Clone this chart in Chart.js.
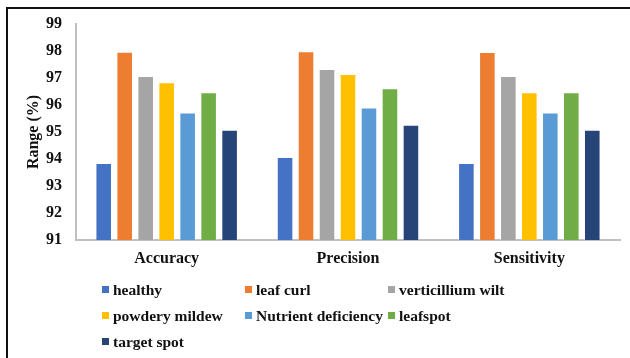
<!DOCTYPE html>
<html>
<head>
<meta charset="utf-8">
<script src="https://cdn.jsdelivr.net/npm/chart.js@4/dist/chart.umd.min.js"></script>
<style>
  html, body { margin: 0; padding: 0; background: #fff; }
  #wrap { position: relative; width: 630px; height: 358px; overflow: hidden; }
  #frame { position: absolute; left: 6px; top: 7px; right: 0; bottom: 0;
           border-left: 2px solid #111; border-top: 2px solid #111; pointer-events: none; }
  canvas { position: absolute; left: 0; top: 0; }
  #legend { position: absolute; left: 102px; top: 279px;
            display: grid; grid-template-columns: 143px 143px 160px; row-gap: 5px;
            font-family: "Liberation Serif", "Times New Roman", serif; font-weight: bold;
            font-size: 15.5px; color: #111; }
  #legend .item { display: flex; align-items: center; height: 21px; white-space: nowrap; }
  #legend .box { width: 7px; height: 7px; margin-right: 4px; flex: none; }
</style>
</head>
<body>
<div id="wrap">
  <canvas id="chart" width="630" height="358"></canvas>
  <div id="frame"></div>
  <div id="legend"></div>
</div>
<script>
const categories = ["Accuracy", "Precision", "Sensitivity"];
const classNames = ["healthy", "leaf curl", "verticillium wilt", "powdery mildew",
                    "Nutrient deficiency", "leafspot", "target spot"];
const healthy            = [93.85, 94.07, 93.85];
const leafCurl           = [97.97, 97.99, 97.96];
const verticilliumWilt   = [97.07, 97.33, 97.07];
const powderyMildew      = [96.84, 97.15, 96.47];
const nutrientDeficiency = [95.72, 95.91, 95.72];
const leafspot           = [96.47, 96.62, 96.47];
const targetSpot         = [95.08, 95.27, 95.08];
const yTicks = [91, 92, 93, 94, 95, 96, 97, 98, 99];

const seriesValues = [healthy, leafCurl, verticilliumWilt, powderyMildew,
                      nutrientDeficiency, leafspot, targetSpot];
const colors = ["#4472C4", "#ED7D31", "#A5A5A5", "#FFC000", "#5B9BD5", "#70AD47", "#264478"];

const serif = "'Liberation Serif', 'Times New Roman', serif";

const chart = new Chart(document.getElementById("chart"), {
  type: "bar",
  data: {
    labels: categories,
    datasets: classNames.map((name, i) => ({
      label: name,
      data: seriesValues[i],
      backgroundColor: colors[i],
      borderColor: "rgba(255,255,255,0.35)",
      borderWidth: 1,
      categoryPercentage: 0.81,
      barPercentage: 0.79
    }))
  },
  options: {
    responsive: false,
    animation: false,
    layout: { padding: { left: 8, right: 10, top: 24, bottom: 88 } },
    plugins: { legend: { display: false }, tooltip: { enabled: false } },
    scales: {
      x: {
        grid: { display: false, drawTicks: false },
        border: { display: true, color: "#BFBFBF", width: 2 },
        ticks: { color: "#111", padding: 9, font: { family: serif, size: 16, weight: "bold" } },
        afterFit: s => { s.height = 30; }
      },
      y: {
        min: 91, max: 99,
        afterBuildTicks: s => { s.ticks = yTicks.map(v => ({ value: v })); },
        grid: { display: false, drawTicks: false },
        border: { display: true, color: "#BFBFBF", width: 2 },
        ticks: { color: "#111", padding: 14, font: { family: serif, size: 16, weight: "bold" } },
        title: { display: true, text: "Range (%)", color: "#111",
                 padding: { top: 16, bottom: 0 },
                 font: { family: serif, size: 16, weight: "bold" } },
        afterFit: s => { s.width = 68; }
      }
    }
  }
});

// legend laid out as a three-column grid under the plot
const legend = document.getElementById("legend");
chart.data.datasets.forEach(ds => {
  const item = document.createElement("div");
  item.className = "item";
  const box = document.createElement("span");
  box.className = "box";
  box.style.background = ds.backgroundColor;
  const txt = document.createElement("span");
  txt.textContent = ds.label;
  item.appendChild(box);
  item.appendChild(txt);
  legend.appendChild(item);
});
</script>
</body>
</html>
